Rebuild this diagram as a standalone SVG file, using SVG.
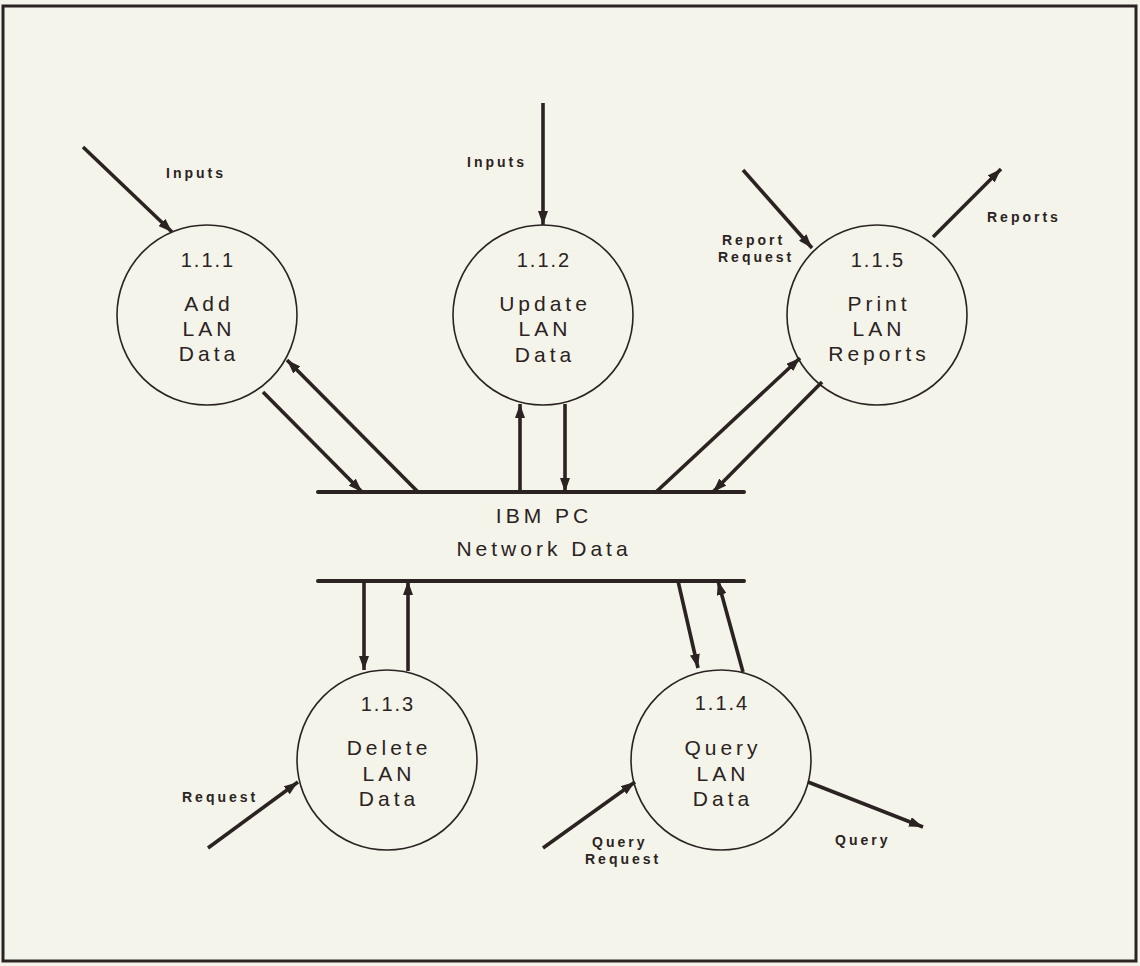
<svg xmlns="http://www.w3.org/2000/svg" width="1140" height="966" viewBox="0 0 1140 966">
  <style>
    .bubble { fill: none; stroke: #2b2322; stroke-width: 1.6; }
    .flow { fill: none; stroke: #2b2322; stroke-width: 3.6; marker-end: url(#head); }
    .store { stroke: #2b2322; stroke-width: 4; stroke-linecap: round; }
    .ptext { font-family: "Liberation Sans", Arial, sans-serif; font-size: 21px; fill: #2b2322; text-anchor: middle; letter-spacing: 4px; }
    .num { font-family: "Liberation Sans", Arial, sans-serif; font-size: 20px; fill: #2b2322; text-anchor: middle; letter-spacing: 2px; }
    .flabel { font-family: "Liberation Sans", Arial, sans-serif; font-size: 14px; font-weight: bold; fill: #2b2322; letter-spacing: 3px; }
  </style>
  <defs>
    <marker id="head" viewBox="0 0 14 10" refX="14" refY="5" markerWidth="14" markerHeight="10" markerUnits="userSpaceOnUse" orient="auto">
      <path d="M0,0 L14,5 L0,10 Z" fill="#2b2322"/>
    </marker>
  </defs>

  <!-- page -->
  <rect x="0" y="0" width="1140" height="966" fill="#f4f4ea"/>
  <rect x="3" y="6" width="1133" height="955" fill="none" stroke="#2b2322" stroke-width="3"/>

  <!-- data store -->
  <g id="store">
    <line class="store" x1="318" y1="492" x2="744" y2="492"/>
    <line class="store" x1="318" y1="581" x2="744" y2="581"/>
    <text class="ptext" x="544" y="523">IBM PC</text>
    <text class="ptext" x="544" y="556">Network Data</text>
  </g>

  <!-- processes -->
  <g id="p111">
    <circle class="bubble" cx="207" cy="315" r="90"/>
    <text class="num" x="208" y="267">1.1.1</text>
    <text class="ptext" x="209" y="311">Add</text>
    <text class="ptext" x="209" y="336">LAN</text>
    <text class="ptext" x="209" y="361">Data</text>
  </g>
  <g id="p112">
    <circle class="bubble" cx="543" cy="315" r="90"/>
    <text class="num" x="544" y="267">1.1.2</text>
    <text class="ptext" x="545" y="311">Update</text>
    <text class="ptext" x="545" y="336">LAN</text>
    <text class="ptext" x="545" y="362">Data</text>
  </g>
  <g id="p115">
    <circle class="bubble" cx="877" cy="315" r="90"/>
    <text class="num" x="878" y="267">1.1.5</text>
    <text class="ptext" x="879" y="311">Print</text>
    <text class="ptext" x="879" y="336">LAN</text>
    <text class="ptext" x="879" y="361">Reports</text>
  </g>
  <g id="p113">
    <circle class="bubble" cx="387" cy="760" r="90"/>
    <text class="num" x="388" y="711">1.1.3</text>
    <text class="ptext" x="389" y="755">Delete</text>
    <text class="ptext" x="389" y="781">LAN</text>
    <text class="ptext" x="389" y="806">Data</text>
  </g>
  <g id="p114">
    <circle class="bubble" cx="721" cy="760" r="90"/>
    <text class="num" x="722" y="710">1.1.4</text>
    <text class="ptext" x="723" y="755">Query</text>
    <text class="ptext" x="723" y="781">LAN</text>
    <text class="ptext" x="723" y="806">Data</text>
  </g>

  <!-- data flows -->
  <g id="flows">
    <line class="flow" x1="83" y1="147" x2="172" y2="232"/>
    <line class="flow" x1="263" y1="392" x2="362" y2="492"/>
    <line class="flow" x1="418" y1="492" x2="287" y2="360"/>
    <line class="flow" x1="543" y1="103" x2="543" y2="225"/>
    <line class="flow" x1="520" y1="492" x2="520" y2="404"/>
    <line class="flow" x1="565" y1="404" x2="565" y2="492"/>
    <line class="flow" x1="743" y1="170" x2="812" y2="248"/>
    <line class="flow" x1="933" y1="237" x2="1001" y2="169"/>
    <line class="flow" x1="656" y1="492" x2="800" y2="358"/>
    <line class="flow" x1="822" y1="382" x2="713" y2="492"/>
    <line class="flow" x1="364" y1="581" x2="364" y2="670"/>
    <line class="flow" x1="408" y1="671" x2="408" y2="581"/>
    <line class="flow" x1="678" y1="581" x2="698" y2="668"/>
    <line class="flow" x1="743" y1="672" x2="718" y2="581"/>
    <line class="flow" x1="208" y1="848" x2="298" y2="782"/>
    <line class="flow" x1="543" y1="848" x2="635" y2="782"/>
    <line class="flow" x1="808" y1="782" x2="923" y2="827"/>
  </g>

  <!-- flow labels -->
  <g id="labels">
    <text class="flabel" x="166" y="178">Inputs</text>
    <text class="flabel" x="467" y="167">Inputs</text>
    <text class="flabel" x="722" y="245">Report</text>
    <text class="flabel" x="718" y="262">Request</text>
    <text class="flabel" x="987" y="222">Reports</text>
    <text class="flabel" x="182" y="802">Request</text>
    <text class="flabel" x="592" y="847">Query</text>
    <text class="flabel" x="585" y="864">Request</text>
    <text class="flabel" x="835" y="845">Query</text>
  </g>
</svg>
